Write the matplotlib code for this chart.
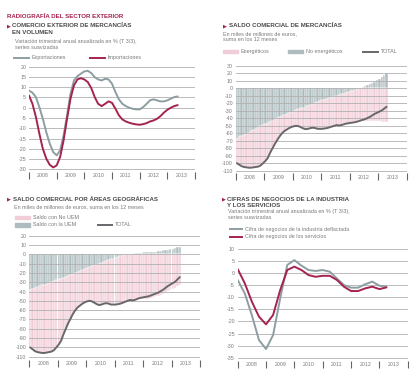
import numpy as np
import matplotlib
matplotlib.use("Agg")
import matplotlib.pyplot as plt
from matplotlib.lines import Line2D
from matplotlib.patches import Rectangle

plt.rcParams['font.family'] = ['Liberation Sans', 'DejaVu Sans']

# --- data -----------------------------------------------------------------
years = ["2008", "2009", "2010", "2011", "2012", "2013"]

# comercio exterior en volumen, cada medio trimestre desde 2008 T1
exportaciones = [8.4, 7.3, 5.2, 0.3, -5.4, -11.9, -17.5, -21.6, -23.2, -20.8, -13.5, -3.7,
                 6.8, 13.3, 15.4, 16.6, 17.7, 18.0, 16.9, 14.9, 13.8, 13.3, 14.1, 13.8,
                 11.7, 7.6, 4.1, 1.9, 0.8, 0.0, -0.5, -0.8, -0.8, 0.3, 1.9, 3.6,
                 4.1, 3.6, 3.1, 3.1, 3.6, 4.4, 5.2, 5.5]
importaciones = [6.0, 1.9, -4.5, -12.7, -20.0, -24.8, -27.8, -29.1, -28.1, -24.0, -15.9, -5.4,
                 4.4, 10.9, 13.8, 14.4, 13.8, 12.5, 9.6, 5.2, 1.9, 0.8, 1.9, 3.1,
                 2.4, -0.5, -3.7, -5.7, -6.7, -7.3, -7.8, -8.1, -8.3, -8.0, -7.5, -6.7,
                 -6.2, -5.4, -4.1, -2.4, -1.0, 0.0, 0.8, 1.3]

# saldo comercial, suma 12 meses, mensual desde ene 2008
saldo_total = [-100, -102, -104, -105, -105.5, -106, -106, -105.5, -105, -104.5, -103, -100,
               -97, -93, -86, -80, -74, -69, -64, -60, -57, -55, -53, -51.5,
               -50.5, -50, -50.5, -52, -53.5, -54.5, -54, -53, -52.5, -53, -54, -54,
               -54, -53.5, -53, -52, -51, -50, -49, -49.5, -49, -48, -47, -46.5,
               -46, -45.5, -45, -44, -43, -42, -41, -39.5, -38, -36, -34, -32.5,
               -31, -29.5, -27, -24.5]
no_energeticos = [-67, -65.5, -64, -62, -60.5, -59, -57, -55.5, -54, -52, -50.5, -49,
                  -47.5, -46, -44.5, -43, -41.5, -40, -38.5, -37, -35.5, -34, -32.5, -31,
                  -30, -29, -28, -26.5, -25.5, -24, -23, -22, -21, -19.5, -18.5, -17,
                  -16, -15, -14, -13, -12, -11, -10, -9, -8, -7, -6, -5,
                  -4, -3, -2, -1, 0, 1.5, 3, 4.5, 6, 7.5, 9, 11,
                  13, 15, 17.5, 20]
saldo_uem = [-38, -37, -36.5, -35.5, -34.5, -33.5, -32.5, -31.5, -30.5, -29.5, -28.5, -27.5,
             -27, -26, -25, -24, -23, -22, -21, -20, -19, -18, -17, -16,
             -15, -14, -13, -12, -11, -10, -9, -8, -7.5, -6.5, -5.5, -4.5,
             -4, -3, -2, -1, 0, 0.5, 0.5, 0.5, 1, 1, 1, 1.5,
             2, 2, 2.5, 2.5, 3, 3, 3.5, 4, 4.5, 5, 5, 5.5,
             6, 7, 7.5, 8]

# cifra de negocios, trimestral desde 2008 T1
industria = [-2.8, -8.4, -17.4, -27.7, -31.4, -25.6, -10.4, 3.4, 5.4, 3.1, 1.3, 0.9,
             1.3, 0.6, -2.2, -4.9, -6.0, -6.0, -4.6, -3.5, -5.2, -5.6]
servicios = [1.7, -4.2, -11.8, -18.0, -21.2, -17.3, -7.0, 1.3, 2.7, 1.3, -0.8, -1.5,
             -1.1, -1.1, -2.8, -5.6, -7.4, -7.4, -6.3, -5.6, -6.6, -5.9]

# --- styles ---------------------------------------------------------------
W, H = 414, 374
RED = '#a5234f'
GRAYLINE = '#8d9ea3'
PINK = '#f1cdd8'
GRAYBAR = '#aebcc0'
TOTALC = '#6a676c'
GRID = '#b0b0b0'
TXT = '#7a7a7a'
HEAD = '#4a4a4a'

fig = plt.figure(figsize=(W / 100, H / 100), dpi=100)
fig.patch.set_facecolor('white')


def fx(x):
    return x / W


def fy(y):
    return 1 - y / H


def make_ax(x0, x1, ytop_px, ybot_px, ytop_v, ybot_v, lim_top, lim_bot):
    # place axes so that the gridline values land on the given pixel rows
    ppu = (ybot_px - ytop_px) / (ytop_v - ybot_v)
    top = ytop_px - (lim_top - ytop_v) * ppu
    bot = ybot_px + (ybot_v - lim_bot) * ppu
    ax = fig.add_axes([fx(x0), fy(bot), fx(x1) - fx(x0), (bot - top) / H])
    ax.set_xlim(2008, 2014)
    ax.set_ylim(lim_bot, lim_top)
    for s in ax.spines.values():
        s.set_visible(False)
    ax.set_facecolor('none')
    return ax


def style_ax(ax, ticks):
    for t in ticks:
        ax.axhline(t, color=GRID, lw=0.6, zorder=2)
    ax.set_yticks(ticks)
    ax.set_yticklabels([str(t) for t in ticks], fontsize=3.8, color=TXT)
    ax.tick_params(axis='y', length=0, pad=2)
    ax.set_xticks(np.arange(2008, 2015))
    ax.set_xticklabels([])
    ax.tick_params(axis='x', which='major', length=5, width=0.8, color='#666666', direction='out')
    ax.set_xticks(np.arange(2008, 2014) + 0.5, minor=True)
    ax.set_xticklabels(years, minor=True, fontsize=3.8, color=TXT)
    ax.tick_params(axis='x', which='minor', length=0, pad=1)


def header(x, y, lines):
    fig.text(fx(x), fy(y), '\u25b6', color=RED, fontsize=3.6, va='center', ha='left',
             family=['DejaVu Sans'])
    for i, s in enumerate(lines):
        fig.text(fx(x + 5.3), fy(y + i * 6.5), s, color=HEAD, fontsize=4.4,
                 fontweight='bold', va='center', ha='left')


def sub(x, y, lines):
    for i, s in enumerate(lines):
        fig.text(fx(x), fy(y + i * 5.5), s, color=TXT, fontsize=3.9, va='center', ha='left')


def leg_line(x0, x1, y, color, label):
    fig.add_artist(Line2D([fx(x0), fx(x1)], [fy(y), fy(y)], color=color, lw=1.4,
                          transform=fig.transFigure))
    fig.text(fx(x1 + 3), fy(y), label, color=TXT, fontsize=3.9, va='center', ha='left')


def leg_patch(x0, x1, y, color, label):
    fig.add_artist(Rectangle((fx(x0), fy(y + 1.6)), fx(x1) - fx(x0), 3.2 / H,
                             color=color, transform=fig.transFigure))
    fig.text(fx(x1 + 3), fy(y), label, color=TXT, fontsize=3.9, va='center', ha='left')


# --- titles ---------------------------------------------------------------
fig.text(fx(6.7), fy(16), 'RADIOGRAFÍA DEL SECTOR EXTERIOR', color=RED, fontsize=4.4,
         fontweight='bold', va='center', ha='left')

# --- panel 1 --------------------------------------------------------------
header(6.7, 25.5, ['COMERCIO EXTERIOR DE MERCANCÍAS', 'EN VOLUMEN'])
sub(15, 42, ['Variación trimestral anual anualizada en % (T 3/3),', 'series suavizadas'])
leg_line(14, 29, 57.5, GRAYLINE, 'Exportaciones')
leg_line(90, 105, 57.5, RED, 'Importaciones')

ax1 = make_ax(29, 195, 66.7, 169.3, 20, -30, 20.5, -31.2)
style_ax(ax1, list(range(20, -31, -5)))
tq1 = 2008 + np.arange(len(exportaciones)) / 8
ax1.plot(tq1, exportaciones, color=GRAYLINE, lw=1.4, zorder=3, solid_capstyle='round',
         solid_joinstyle='round')
ax1.plot(tq1, importaciones, color=RED, lw=1.4, zorder=4, solid_capstyle='round',
         solid_joinstyle='round')

# --- panel 2 --------------------------------------------------------------
header(223.3, 25.7, ['SALDO COMERCIAL DE MERCANCÍAS'])
sub(223.3, 34, ['En miles de millones de euros,', 'suma en los 12 meses'])
leg_patch(223, 238, 51.7, PINK, 'Energéticos')
leg_patch(288, 303, 51.7, GRAYBAR, 'No energéticos')
leg_line(363, 378, 51.7, TOTALC, 'TOTAL')

ax2 = make_ax(235.7, 406.7, 66, 170.7, 30, -110, 31, -113.5)
style_ax(ax2, list(range(30, -111, -10)))
tm = 2008 + (np.arange(len(saldo_total)) + 0.5) / 12
tot = np.array(saldo_total)
ne = np.array(no_energeticos)
en = tot - ne
ax2.bar(tm, ne, width=1 / 12, color=GRAYBAR, edgecolor='white', linewidth=0.35, zorder=1)
ax2.bar(tm, en, bottom=np.minimum(ne, 0), width=1 / 12, color=PINK, edgecolor='white',
        linewidth=0.35, zorder=1)
ax2.plot(tm, tot, color=TOTALC, lw=1.4, zorder=4, solid_capstyle='round')

# --- panel 3 --------------------------------------------------------------
header(7.3, 199.3, ['SALDO COMERCIAL POR ÁREAS GEOGRÁFICAS'])
sub(14, 206.7, ['En miles de millones de euros, suma en los 12 meses'])
leg_patch(15, 30, 217.3, PINK, 'Saldo con No UEM')
leg_patch(15, 30, 225, GRAYBAR, 'Saldo con la UEM')
leg_line(98, 112, 225, TOTALC, 'TOTAL')

ax3 = make_ax(29, 200, 235.7, 356.7, 20, -110, 21, -113.5)
style_ax(ax3, list(range(20, -111, -10)))
uem = np.array(saldo_uem)
no_uem = tot - uem
ax3.bar(tm, uem, width=1 / 12, color=GRAYBAR, edgecolor='white', linewidth=0.35, zorder=1)
ax3.bar(tm, no_uem, bottom=np.minimum(uem, 0), width=1 / 12, color=PINK, edgecolor='white',
        linewidth=0.35, zorder=1)
ax3.plot(tm, tot, color=TOTALC, lw=1.4, zorder=4, solid_capstyle='round')

# --- panel 4 --------------------------------------------------------------
header(222, 199.3, ['CIFRAS DE NEGOCIOS DE LA INDUSTRIA', 'Y LOS SERVICIOS'])
sub(227.7, 211.7, ['Variación trimestral anual anualizada en % (T 3/3),', 'series suavizadas'])
leg_line(230, 242, 229.3, GRAYLINE, 'Cifra de negocios de la industria deflactada')
leg_line(230, 242, 236.7, RED, 'Cifra de negocios de los servicios')

ax4 = make_ax(237.7, 407.7, 249, 357.7, 10, -35, 10.4, -36.3)
style_ax(ax4, list(range(10, -36, -5)))
tq4 = 2008 + np.arange(len(industria)) / 4
ax4.plot(tq4, industria, color=GRAYLINE, lw=1.4, zorder=3, solid_capstyle='round',
         solid_joinstyle='round')
ax4.plot(tq4, servicios, color=RED, lw=1.4, zorder=4, solid_capstyle='round',
         solid_joinstyle='round')

fig.savefig('out.png', dpi=100)
